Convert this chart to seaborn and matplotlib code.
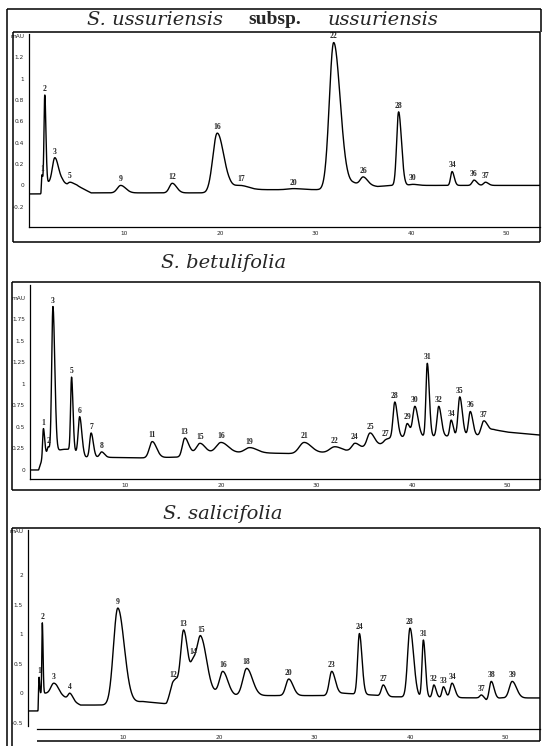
import numpy as np
import pandas as pd
import matplotlib
matplotlib.use("Agg")
import matplotlib.pyplot as plt
from matplotlib.lines import Line2D
import seaborn as sns

W, H = 542, 746
PX_PER_MIN = 9.55

# ---- S. ussuriensis subsp. ussuriensis: peak apex (min, mAU), peak sigma, labels
uss_rt = [1.35, 1.65, 2.7, 4.3, 9.6, 15.0, 19.7, 22.2, 27.7, 31.9, 35.0, 38.7, 40.2, 44.3, 46.6, 47.8]
uss_apex = [0.10, 0.85, 0.26, 0.03, 0.0, 0.02, 0.49, 0.0, -0.03, 1.34, 0.08, 0.69, 0.01, 0.13, 0.05, 0.03]
uss_sigma = [0.05, 0.08, 0.25, 0.25, 0.35, 0.3, 0.45, 0.6, 0.6, 0.45, 0.3, 0.2, 0.35, 0.15, 0.2, 0.2]
uss_labels = ["1", "2", "3", "5", "9", "12", "16", "17", "20", "22", "26", "28", "30", "34", "36", "37"]
uss_base_t = [0, 1.25, 1.35, 3.5, 4.0, 5.0, 6.5, 18.5, 21, 23.5, 30.5, 34, 36.5, 38, 54]
uss_base_y = [-0.08, -0.08, 0.02, 0.04, 0.0, 0.0, -0.07, -0.07, -0.02, -0.04, -0.04, 0.02, -0.01, 0.0, 0.0]

# ---- S. betulifolia
bet_rt = [1.4, 1.9, 2.4, 4.35, 5.2, 6.4, 7.5, 12.8, 16.2, 17.8, 20.0, 23.0, 28.7, 31.9, 34.0,
          35.6, 37.2, 38.2, 39.5, 40.3, 41.6, 42.8, 44.1, 45.0, 46.1, 47.5]
bet_apex = [0.48, 0.27, 1.9, 1.08, 0.62, 0.43, 0.21, 0.33, 0.37, 0.31, 0.32, 0.26, 0.32, 0.27, 0.31,
            0.43, 0.35, 0.79, 0.54, 0.74, 1.24, 0.74, 0.58, 0.85, 0.68, 0.57]
bet_sigma = [0.08, 0.08, 0.13, 0.1, 0.15, 0.15, 0.2, 0.3, 0.25, 0.35, 0.5, 0.5, 0.5, 0.5, 0.3,
             0.3, 0.25, 0.18, 0.18, 0.22, 0.14, 0.18, 0.14, 0.18, 0.18, 0.25]
bet_labels = ["1", "2", "3", "5", "6", "7", "8", "11", "13", "15", "16", "19", "21", "22", "24",
              "25", "27", "28", "29", "30", "31", "32", "34", "35", "36", "37"]
bet_base_t = [0, 0.9, 1.2, 1.6, 3.5, 4.2, 5.8, 12, 15.7, 16.8, 23.5, 27.5, 33, 35, 37, 38, 47, 48.5, 50, 54]
bet_base_y = [0, 0, 0.1, 0.2, 0.24, 0.24, 0.15, 0.14, 0.15, 0.2, 0.2, 0.19, 0.21, 0.26, 0.3, 0.38, 0.4, 0.47, 0.44, 0.4]

# ---- S. salicifolia
sal_rt = [1.16, 1.5, 2.7, 4.4, 9.4, 15.2, 16.3, 17.3, 18.1, 20.4, 22.9, 27.3, 31.8, 34.7, 37.2,
          40.0, 41.4, 42.5, 43.5, 44.4, 47.5, 48.5, 50.7]
sal_apex = [0.27, 1.19, 0.17, 0.0, 1.44, 0.2, 1.07, 0.6, 0.97, 0.37, 0.42, 0.24, 0.37, 1.01, 0.14,
            1.1, 0.9, 0.14, 0.11, 0.17, -0.03, 0.2, 0.2]
sal_sigma = [0.04, 0.05, 0.3, 0.2, 0.45, 0.3, 0.3, 0.25, 0.4, 0.35, 0.4, 0.3, 0.25, 0.18, 0.2,
             0.25, 0.14, 0.15, 0.15, 0.2, 0.2, 0.2, 0.3]
sal_labels = ["1", "2", "3", "4", "9", "12", "13", "14", "15", "16", "18", "20", "23", "24", "27",
              "28", "31", "32", "33", "34", "37", "38", "39"]
sal_base_t = [0, 1.05, 1.12, 3, 4.0, 5.5, 8.5, 12, 14.5, 15.5, 19.5, 21.7, 31, 33, 36, 38, 47, 48, 49.5, 54]
sal_base_y = [-0.3, -0.3, 0.0, 0.0, -0.08, -0.2, -0.2, -0.14, -0.18, 0.05, 0.0, -0.04, -0.04, 0.0,
              -0.03, -0.06, -0.08, -0.14, -0.08, -0.08]

TAIL = 1.5


def peak_kernel(t, rt, sigma):
    s = np.where(t < rt, sigma, sigma * TAIL)
    return np.exp(-0.5 * ((t - rt) / s) ** 2)


def build_trace(t, rt, apex, sigma, base_t, base_y):
    rt = np.asarray(rt)
    sigma = np.asarray(sigma)
    # heights chosen so that the trace passes through the read apex values
    A = np.array([[peak_kernel(np.array([ri]), rj, sj)[0] for rj, sj in zip(rt, sigma)] for ri in rt])
    target = np.asarray(apex) - np.interp(rt, base_t, base_y)
    heights = np.clip(np.linalg.solve(A, target), 0, None)
    y = np.interp(t, base_t, base_y)
    for r, h, s in zip(rt, heights, sigma):
        y = y + h * peak_kernel(t, r, s)
    return y


def fig_line(fig, x0, y0, x1, y1, lw=1.1):
    fig.add_artist(Line2D([x0 / W, x1 / W], [1 - y0 / H, 1 - y1 / H], color="black",
                          lw=lw, transform=fig.transFigure, solid_capstyle="butt"))


def fig_box(fig, x0, y0, x1, y1, lw=1.1):
    fig_line(fig, x0, y0, x1, y0, lw)
    fig_line(fig, x0, y1, x1, y1, lw)
    fig_line(fig, x0, y0, x0, y1, lw)
    fig_line(fig, x1, y0, x1, y1, lw)


def make_axes(fig, x0, ytop, ybot, x1, ylim):
    ax = fig.add_axes([x0 / W, 1 - ybot / H, (x1 - x0) / W, (ybot - ytop) / H])
    ax.set_xlim(0, (x1 - x0) / PX_PER_MIN)
    ax.set_ylim(*ylim)
    ax.patch.set_alpha(0)
    for side in ["top", "right"]:
        ax.spines[side].set_visible(False)
    for side in ["left", "bottom"]:
        ax.spines[side].set_linewidth(0.9)
        ax.spines[side].set_color("black")
    return ax


def draw_panel(ax, rt, apex, sigma, labels, base_t, base_y, yticks, yticklabels, minor_step):
    t = np.linspace(0, ax.get_xlim()[1], 3000)
    df = pd.DataFrame({"time": t, "signal": build_trace(t, rt, apex, sigma, base_t, base_y)})
    sns.lineplot(data=df, x="time", y="signal", ax=ax, color="black", lw=1.0)
    ax.set_xlabel("")
    ax.set_ylabel("")
    ax.set_yticks(yticks)
    ax.set_yticklabels(yticklabels)
    ax.set_yticks(np.arange(ax.get_ylim()[0], ax.get_ylim()[1], minor_step), minor=True)
    ax.tick_params(axis="y", which="major", length=2.5, width=0.7, labelsize=4.2, pad=1)
    ax.tick_params(axis="y", which="minor", length=1.2, width=0.5)
    ax.set_xticks([10, 20, 30, 40, 50])
    ax.set_xticklabels(["10", "20", "30", "40", "50"])
    ax.tick_params(axis="x", length=2, width=0.7, labelsize=4.2, pad=1)
    top_vals = np.interp(rt, df["time"], df["signal"])
    for r, v, lab in zip(rt, top_vals, labels):
        ax.annotate(lab, (r, v), xytext=(0, 1.5), textcoords="offset points", ha="center",
                    va="bottom", fontsize=5.5, family="Liberation Serif", fontweight="bold")


sns.set_style("white")
plt.rcParams["font.family"] = ["DejaVu Sans"]

fig = plt.figure(figsize=(W / 100, H / 100), dpi=100)
fig.patch.set_facecolor("white")

# outer frame
fig_line(fig, 7, 9, 7, 746)
fig_line(fig, 7, 9, 541, 9)
fig_line(fig, 541, 9, 541, 32)

# panel 1
fig_box(fig, 13, 32, 540, 242)
ax1 = make_axes(fig, 29, 34, 227, 540, (-0.39, 1.42))
draw_panel(ax1, uss_rt, uss_apex, uss_sigma, uss_labels, uss_base_t, uss_base_y,
           [-0.2, 0, 0.2, 0.4, 0.6, 0.8, 1.0, 1.2, 1.4],
           ["-0.2", "0", "0.2", "0.4", "0.6", "0.8", "1", "1.2", "mAU"], 0.05)

tkw = dict(transform=fig.transFigure, va="center", ha="left", fontsize=14)
fig.text(87 / W, 1 - 20 / H, "S. ussuriensis", style="italic", family="DejaVu Serif", **tkw)
fig.text(248 / W, 1 - 20 / H, "subsp.", fontweight="bold", family="Liberation Serif", **tkw)
fig.text(328 / W, 1 - 20 / H, "ussuriensis", style="italic", family="DejaVu Serif", **tkw)

# panel 2
fig.text(224 / W, 1 - 263 / H, "S. betulifolia", style="italic", ha="center", va="center",
         fontsize=14, family="DejaVu Serif")
fig_box(fig, 12, 282, 540, 490)
ax2 = make_axes(fig, 30, 285, 479, 540, (-0.105, 2.15))
draw_panel(ax2, bet_rt, bet_apex, bet_sigma, bet_labels, bet_base_t, bet_base_y,
           [0, 0.25, 0.5, 0.75, 1.0, 1.25, 1.5, 1.75, 2.0],
           ["0", "0.25", "0.5", "0.75", "1", "1.25", "1.5", "1.75", "mAU"], 0.0625)

# panel 3
fig.text(223 / W, 1 - 514 / H, "S. salicifolia", style="italic", ha="center", va="center",
         fontsize=14, family="DejaVu Serif")
fig_line(fig, 12, 528, 540, 528)
fig_line(fig, 12, 528, 12, 746)
fig_line(fig, 540, 528, 540, 741)
ax3 = make_axes(fig, 28, 530, 729, 540, (-0.605, 2.76))
draw_panel(ax3, sal_rt, sal_apex, sal_sigma, sal_labels, sal_base_t, sal_base_y,
           [-0.5, 0, 0.5, 1.0, 1.5, 2.0, 2.75],
           ["-0.5", "0", "0.5", "1", "1.5", "2", "mAU"], 0.125)
ax3.spines["left"].set_bounds(-0.55, 2.76)
ax3.spines["bottom"].set_bounds((37 - 28) / PX_PER_MIN, ax3.get_xlim()[1])
ax3.tick_params(axis="x", length=0, pad=4)
fig_line(fig, 37, 741, 540, 741)

fig.savefig("out.png", dpi=100)
